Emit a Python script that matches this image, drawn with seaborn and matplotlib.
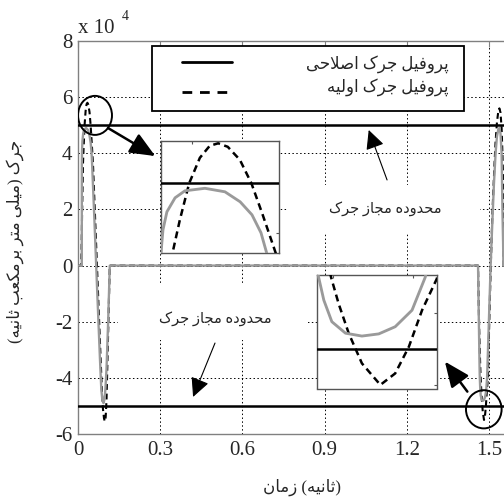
import numpy as np
import pandas as pd
import matplotlib
matplotlib.use('Agg')
import matplotlib.pyplot as plt
import seaborn as sns
from matplotlib.patches import Ellipse, Rectangle

# ---- data (jerk in units of 1e4 mm/s^3, time in s) ----
corrected_t = [0.0, 0.0138, 0.0140, 0.0147, 0.0161, 0.0190, 0.0225, 0.0296, 0.0367,
               0.0421, 0.0463, 0.0495, 0.0515, 0.060, 0.070, 0.080, 0.085, 0.089,
               0.093, 0.097, 0.100, 0.104, 0.110, 0.116,
               1.4600, 1.4630, 1.4655, 1.4664, 1.4677, 1.4697, 1.4731, 1.4772, 1.4814,
               1.4855, 1.4897, 1.4930, 1.4995, 1.5060, 1.512, 1.518, 1.524, 1.529,
               1.534, 1.538, 1.542, 1.546, 1.549, 1.5515, 1.5525, 1.6]
corrected_jerk = [0.0, 0.0, 3.61, 4.07, 4.43, 4.71, 4.85, 4.90, 4.83,
                  4.63, 4.37, 4.01, 3.61, 1.6, -0.9, -3.3, -4.4, -4.8,
                  -4.9, -4.75, -4.4, -3.7, -2.0, 0.0,
                  0.0, -2.0, -3.6, -4.0, -4.32, -4.62, -4.78, -4.82, -4.79,
                  -4.69, -4.46, -4.0, -2.0, 0.0, 1.5, 2.9, 4.0, 4.6,
                  4.85, 4.9, 4.7, 4.0, 2.0, 0.8, 0.0, 0.0]

initial_t = [0.0, 0.012, 0.0150, 0.0181, 0.0207, 0.0240, 0.0278, 0.0313, 0.0343,
             0.0377, 0.0420, 0.0461, 0.0501, 0.0547, 0.060, 0.070, 0.080, 0.087,
             0.091, 0.095, 0.098, 0.101, 0.104, 0.110, 0.116,
             1.4600, 1.4640, 1.4680, 1.4695, 1.4714, 1.4739, 1.4772, 1.4818, 1.4855,
             1.4889, 1.4922, 1.4959, 1.5010, 1.5065, 1.513, 1.520, 1.524, 1.529,
             1.534, 1.538, 1.542, 1.546, 1.549, 1.5515, 1.553, 1.6]
initial_jerk = [0.0, 0.0, 1.9, 3.61, 4.27, 5.0, 5.51, 5.75, 5.80,
                5.73, 5.47, 5.0, 4.37, 3.61, 2.3, -0.2, -2.7, -4.4,
                -5.1, -5.45, -5.55, -5.4, -4.8, -2.4, 0.0,
                0.0, -2.2, -3.6, -4.0, -4.37, -4.78, -5.20, -5.5, -5.34,
                -4.97, -4.46, -4.02, -2.0, 0.0, 2.0, 3.6, 4.4, 5.1,
                5.5, 5.6, 5.45, 4.9, 4.0, 3.0, 0.0, 0.0]

jerk_limit = 5.0
x_ticks = [0, 0.3, 0.6, 0.9, 1.2, 1.5]
x_tick_labels = ['0', '0.3', '0.6', '0.9', '1.2', '1.5']
y_ticks = [-6, -4, -2, 0, 2, 4, 6, 8]

legend_labels = ['پروفیل جرک اصلاحی', 'پروفیل جرک اولیه']
note_label = 'محدوده مجاز جرک'
x_label = '(ثانیه) زمان'
y_label = 'جرک (میلی متر برمکعب ثانیه)'

# ---- minimal Persian shaping (no bidi lib available) ----
FORMS = {
    'ا': ('\uFE8D', '\uFE8E', None, None),
    'ب': ('\uFE8F', '\uFE90', '\uFE91', '\uFE92'),
    'ت': ('\uFE95', '\uFE96', '\uFE97', '\uFE98'),
    'ث': ('\uFE99', '\uFE9A', '\uFE9B', '\uFE9C'),
    'ج': ('\uFE9D', '\uFE9E', '\uFE9F', '\uFEA0'),
    'ح': ('\uFEA1', '\uFEA2', '\uFEA3', '\uFEA4'),
    'د': ('\uFEA9', '\uFEAA', None, None),
    'ر': ('\uFEAD', '\uFEAE', None, None),
    'ز': ('\uFEAF', '\uFEB0', None, None),
    'ص': ('\uFEB9', '\uFEBA', '\uFEBB', '\uFEBC'),
    'ع': ('\uFEC9', '\uFECA', '\uFECB', '\uFECC'),
    'ف': ('\uFED1', '\uFED2', '\uFED3', '\uFED4'),
    'ل': ('\uFEDD', '\uFEDE', '\uFEDF', '\uFEE0'),
    'م': ('\uFEE1', '\uFEE2', '\uFEE3', '\uFEE4'),
    'ن': ('\uFEE5', '\uFEE6', '\uFEE7', '\uFEE8'),
    'ه': ('\uFEE9', '\uFEEA', '\uFEEB', '\uFEEC'),
    'و': ('\uFEED', '\uFEEE', None, None),
    'پ': ('\uFB56', '\uFB57', '\uFB58', '\uFB59'),
    'ک': ('\uFB8E', '\uFB8F', '\uFB90', '\uFB91'),
    'ی': ('\uFBFC', '\uFBFD', '\uFBFE', '\uFBFF'),
}


def fa(s):
    out = []
    i = 0
    while i < len(s):
        c = s[i]
        if c not in FORMS:
            out.append(c)
            i += 1
            continue
        prev = s[i - 1] if i > 0 else ''
        joins_prev = prev in FORMS and FORMS[prev][2] is not None
        if c == 'ل' and i + 1 < len(s) and s[i + 1] == 'ا':
            out.append('\uFEFC' if joins_prev else '\uFEFB')
            i += 2
            continue
        nxt = s[i + 1] if i + 1 < len(s) else ''
        joins_next = FORMS[c][2] is not None and nxt in FORMS
        iso, fin, ini, med = FORMS[c]
        if joins_prev and joins_next:
            out.append(med)
        elif joins_prev:
            out.append(fin)
        elif joins_next:
            out.append(ini)
        else:
            out.append(iso)
        i += 1
    mirror = {'(': ')', ')': '('}
    return ''.join(mirror.get(ch, ch) for ch in reversed(out))


sns.set_style('white')
plt.rcParams['font.family'] = ['Liberation Serif', 'DejaVu Sans']
plt.rcParams['axes.unicode_minus'] = False

GRAY = '#9a9a9a'
FRAME = '#808080'
DASH = (0, (2.8, 1.8))

df_corr = pd.DataFrame({'t': corrected_t, 'jerk': corrected_jerk})
df_init = pd.DataFrame({'t': initial_t, 'jerk': initial_jerk})

fig = plt.figure(figsize=(5.04, 4.99), dpi=100)
ax = fig.add_axes([78 / 504, 65 / 499, 438.4 / 504, 393 / 499])


def draw_curves(a, lw_scale=1.0):
    sns.lineplot(data=df_init, x='t', y='jerk', ax=a, sort=False, estimator=None,
                 color='k', lw=1.5 * lw_scale, linestyle=DASH, zorder=3)
    sns.lineplot(data=df_corr, x='t', y='jerk', ax=a, sort=False, estimator=None,
                 color=GRAY, lw=1.7 * lw_scale, zorder=4)
    a.axhline(jerk_limit, color='k', lw=1.8, zorder=5)
    a.axhline(-jerk_limit, color='k', lw=1.8, zorder=5)


draw_curves(ax)
ax.set_xlim(0, 1.6)
ax.set_ylim(-6, 8)
ax.set_xticks(x_ticks)
ax.set_xticklabels(x_tick_labels)
ax.set_yticks(y_ticks)
ax.grid(True, color='k', ls=(0, (1.5, 2.5)), lw=0.7)
ax.set_axisbelow(True)
for sp in ax.spines.values():
    sp.set_color(FRAME)
    sp.set_linewidth(1.0)
ax.tick_params(direction='in', length=4, color=FRAME, labelsize=15, top=True)
ax.tick_params(axis='x', pad=5)
ax.tick_params(axis='y', pad=4)

ax.set_xlabel(fa(x_label), fontsize=12, va='center')
ax.xaxis.set_label_coords(0.511, -0.135)
ax.set_ylabel(fa(y_label), fontsize=12, va='center')
ax.yaxis.set_label_coords(-0.143, 0.491)

ax.text(0.0, 1.020, 'x 10', transform=ax.transAxes, fontsize=15, ha='left', va='baseline')
ax.text(0.100, 1.053, '4', transform=ax.transAxes, fontsize=10, ha='left', va='baseline')

# white backgrounds behind the two notes
ax.add_patch(Rectangle((0.766, 1.16), 0.701, 1.71, facecolor='white', edgecolor='none', zorder=1))
ax.add_patch(Rectangle((0.146, -2.65), 0.693, 1.96, facecolor='white', edgecolor='none', zorder=1))
ax.text(1.120, 2.02, fa(note_label), ha='center', va='center', fontsize=10.5, zorder=6)
ax.text(0.500, -1.87, fa(note_label), ha='center', va='center', fontsize=10.5, zorder=6)

thin = dict(arrowstyle='-|>,head_length=0.65,head_width=0.32', color='k', lw=0.8,
            mutation_scale=18, shrinkA=0, shrinkB=0)
thick = dict(arrowstyle='-|>,head_length=0.7,head_width=0.3', color='k', lw=1.8,
             mutation_scale=22, shrinkA=0, shrinkB=0)
ax.annotate('', xy=(1.061, 4.83), xytext=(1.128, 3.05), arrowprops=thin, zorder=6)
ax.annotate('', xy=(0.420, -4.68), xytext=(0.500, -2.76), arrowprops=thin, zorder=6)
ax.annotate('', xy=(0.282, 3.90), xytext=(0.1095, 4.90), arrowprops=thick, zorder=6)
ax.annotate('', xy=(1.339, -3.42), xytext=(1.421, -4.49), arrowprops=thick, zorder=6)

ax.add_patch(Ellipse((0.062, 5.35), 0.124, 1.39, fill=False, edgecolor='k', lw=1.4, zorder=7))
ax.add_patch(Ellipse((1.481, -5.12), 0.130, 1.36, fill=False, edgecolor='k', lw=1.4, zorder=7))

# legend box drawn by hand so the Persian text can be right aligned
ax.add_patch(Rectangle((0.1688, 0.8219), 0.7117, 0.1661, transform=ax.transAxes,
                       facecolor='white', edgecolor='k', lw=1.3, zorder=8))
ax.plot([0.2372, 0.3513], [0.9473, 0.9473], transform=ax.transAxes, color='k', lw=2.0, zorder=9)
ax.plot([0.2372, 0.3513], [0.8710, 0.8710], transform=ax.transAxes, color='k', lw=2.0,
        ls=(0, (3.5, 2.8)), zorder=9)
ax.text(0.8456, 0.9415, fa(legend_labels[0]), transform=ax.transAxes, ha='right',
        va='center', fontsize=12, zorder=9)
ax.text(0.8456, 0.8817, fa(legend_labels[1]), transform=ax.transAxes, ha='right',
        va='center', fontsize=12, zorder=9)

# zoom insets
in1 = fig.add_axes([161 / 504, (499 - 252.7) / 499, 118.3 / 504, 111.7 / 499])
draw_curves(in1, lw_scale=1.2)
in1.set_xlim(0.014, 0.056)
in1.set_ylim(3.612, 5.846)

in2 = fig.add_axes([317 / 504, (499 - 388.5) / 499, 120.3 / 504, 113.5 / 499])
draw_curves(in2, lw_scale=1.2)
in2.set_xlim(1.466, 1.496)
in2.set_ylim(-5.55, -3.97)

for a in (in1, in2):
    a.set_xlabel('')
    a.set_ylabel('')
    a.set_xticks(a.get_xticks()[1:-1:2])
    a.set_yticks(a.get_yticks()[1:-1:2])
    a.tick_params(direction='in', length=2.5, color='#555555', labelbottom=False,
                  labelleft=False, top=True, right=True)
    for sp in a.spines.values():
        sp.set_color('#555555')
        sp.set_linewidth(1.0)

fig.savefig('out.png', dpi=100)
